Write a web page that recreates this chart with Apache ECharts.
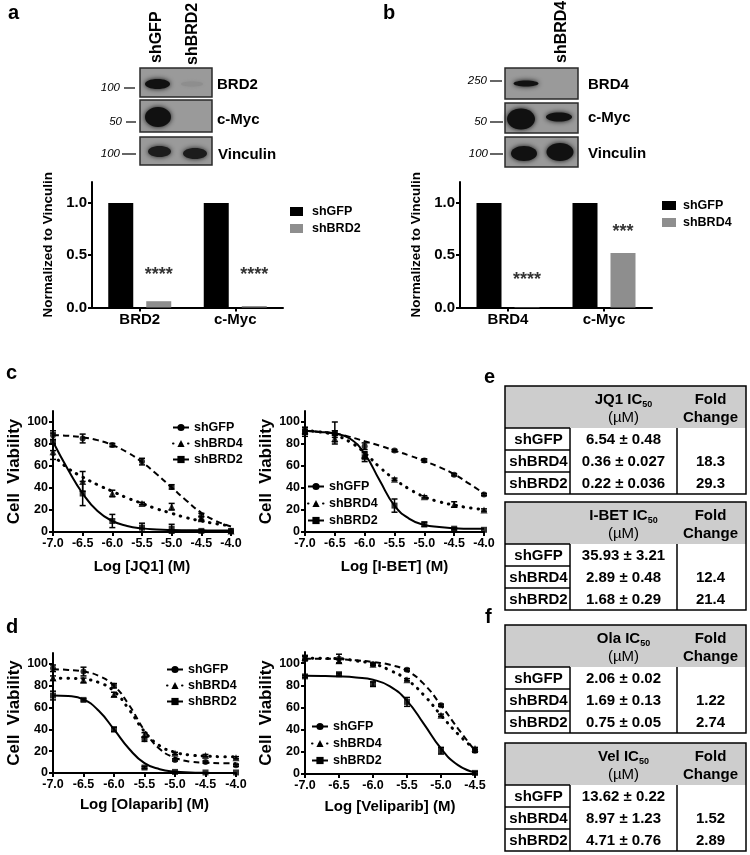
<!DOCTYPE html>
<html><head><meta charset="utf-8">
<script src="https://cdn.jsdelivr.net/npm/echarts@6/dist/echarts.min.js"></script>
<style>html,body{margin:0;padding:0;background:#fff}#c{width:750px;height:855px}</style>
</head><body><div id="c"></div>
<script>
const FONT = '"Liberation Sans", Arial, Helvetica, sans-serif';

// ---------- Panel a / b bar data ----------
const aCats = ['BRD2', 'c-Myc'];
const aGFP = [1, 1];
const aBRD2 = [0.06, 0.014];
const aStars = ['****', '****'];
const aStarY = [0.35, 0.35];

const bCats = ['BRD4', 'c-Myc'];
const bGFP = [1, 1];
const bBRD4 = [0.004, 0.52];
const bStars = ['****', '***'];
const bStarY = [0.30, 0.76];

// ---------- Dose-response data ----------
const doses = [-7.0, -6.5, -6.0, -5.5, -5.0, -4.5, -4.0];
const dosesVel = [-7.0, -6.5, -6.0, -5.5, -5.0, -4.5];
const fitX = [-7, -6.75, -6.5, -6.25, -6, -5.75, -5.5, -5.25, -5, -4.75, -4.5, -4.25, -4];
const fitXVel = [-7, -6.75, -6.5, -6.25, -6, -5.75, -5.5, -5.25, -5, -4.75, -4.5];

// JQ1
const jq1GFP = [88, 85, 79, 64, 41, 14, 1];
const jq1GFPErr = [4, 4, 1.5, 3, 2, 3, 0];
const jq1BRD4 = [73, 46, 35, 26, 23, 12, 1];
const jq1BRD4Err = [7, 9, 3, 1, 3, 2, 0];
const jq1BRD2 = [82, 35, 10, 4, 3, 1, 1];
const jq1BRD2Err = [8, 11, 6, 4, 4, 1, 0];
const jq1GFPFit = [88, 87.5, 86, 83.5, 79, 72.5, 63.5, 52.5, 40.5, 28.5, 17.5, 10, 5];
const jq1BRD4Fit = [70, 58, 50, 43, 37, 31, 26, 21, 17, 13, 10, 7.5, 5.5];
const jq1BRD2Fit = [82, 57, 35, 19, 10, 5.5, 3.3, 2.3, 1.8, 1.6, 1.5, 1.4, 1.4];

// I-BET
const ibetGFP = [92, 89, 78, 74, 65, 52, 34];
const ibetGFPErr = [3, 3, 3, 1, 1.5, 1, 1];
const ibetBRD4 = [92, 85, 70, 48, 32, 25, 20];
const ibetBRD4Err = [3, 3, 3, 1, 1, 2.5, 1];
const ibetBRD2 = [91, 90, 68, 24, 7, 3, 2];
const ibetBRD2Err = [4, 10, 4, 6, 2, 1, 0];
const ibetGFPFit = [92, 91, 89.5, 86.5, 82.5, 78.5, 74, 69.5, 64.5, 59, 52.5, 44, 35];
const ibetBRD4Fit = [92, 91, 88, 82, 72, 59, 48, 39, 32, 27.5, 24.5, 22, 20.5];
const ibetBRD2Fit = [92, 91, 89.5, 85, 71, 47, 24, 12, 6.5, 4.5, 3.5, 3, 3];

// Olaparib
const olaGFP = [96, 93, 80, 31, 12, 10, 7];
const olaGFPErr = [3, 4, 2, 2, 1, 1, 1];
const olaBRD4 = [87, 85, 72, 35, 18, 16, 14];
const olaBRD4Err = [2, 2, 2, 2, 1, 1, 1];
const olaBRD2 = [71, 67, 40, 5, 1, 0.5, 0.5];
const olaBRD2Err = [4, 1, 2, 1, 0, 0, 0];
const olaGFPFit = [95, 94.5, 93, 89, 80, 62, 39, 22, 14, 10.5, 9.5, 9, 9];
const olaBRD4Fit = [87, 86.8, 86, 83, 75, 58, 38, 25, 19, 16.5, 15.5, 15, 15];
const olaBRD2Fit = [71, 70.5, 67.5, 57, 40, 22, 9, 3.5, 1.3, 0.5, 0.2, 0, 0];

// Veliparib
const velGFP = [104, 104, 99, 94, 62, 21];
const velGFPErr = [2, 4, 1, 1, 1, 1.5];
const velBRD4 = [105, 102, 99, 85, 53, 23];
const velBRD4Err = [2, 2, 1, 1, 1, 1];
const velBRD2 = [88, 90, 81, 65, 21, 1];
const velBRD2Err = [1, 1, 2, 4, 3, 1];
const velGFPFit = [104, 104, 103.5, 102.5, 101, 98.5, 93, 81, 62, 41, 21];
const velBRD4Fit = [104.5, 104.3, 104, 102, 99.5, 93.5, 85, 71, 53, 36, 22];
const velBRD2Fit = [88.5, 88.4, 88, 87, 85, 79, 66, 45, 23, 8, 1.5];

// ---------- Tables ----------
const tableDrugs = ['JQ1', 'I-BET', 'Ola', 'Vel'];
const tableRows = ['shGFP', 'shBRD4', 'shBRD2'];
const tableIC50 = [
  ['6.54 ± 0.48', '0.36 ± 0.027', '0.22 ± 0.036'],
  ['35.93 ± 3.21', '2.89 ± 0.48', '1.68 ± 0.29'],
  ['2.06 ± 0.02', '1.69 ± 0.13', '0.75 ± 0.05'],
  ['13.62 ± 0.22', '8.97 ± 1.23', '4.71 ± 0.76']
];
const tableFold = [
  ['', '18.3', '29.3'],
  ['', '12.4', '21.4'],
  ['', '1.22', '2.74'],
  ['', '1.52', '2.89']
];

const chart = echarts.init(document.getElementById('c'), null, {renderer: 'canvas'});

const grids = [
  {left: 92, top: 182, width: 191, height: 125.5},
  {left: 460, top: 182, width: 192, height: 125.5},
  {left: 53, top: 411, width: 178, height: 121},
  {left: 305, top: 411, width: 179, height: 121},
  {left: 53, top: 653, width: 183, height: 120},
  {left: 305, top: 652, width: 170, height: 122}
];

const axLine = {show: true, lineStyle: {color: '#000', width: 2}};
const axTick = {show: true, inside: false, length: 4, lineStyle: {color: '#000', width: 2}};
const lblBase = {color: '#000', fontWeight: 'bold', fontFamily: FONT};

const xAxes = [];
const yAxes = [];
[aCats, bCats].forEach((cats, g) => {
  xAxes.push({gridIndex: g, type: 'category', data: cats, axisLine: axLine,
    axisTick: Object.assign({}, axTick, {alignWithLabel: true, length: 4}),
    axisLabel: Object.assign({}, lblBase, {fontSize: 15, margin: 5})});
  yAxes.push({gridIndex: g, type: 'value', min: 0, max: 1.2, splitLine: {show: false},
    axisLine: axLine, axisTick: Object.assign({}, axTick, {customValues: [0, 0.5, 1]}),
    axisLabel: Object.assign({}, lblBase, {fontSize: 15, margin: 5, customValues: [0, 0.5, 1], formatter: v => v.toFixed(1)}),
    name: 'Normalized to Vinculin', nameLocation: 'middle', nameGap: 37,
    nameTextStyle: Object.assign({}, lblBase, {fontSize: 13.5})});
});
const curveTitles = ['Log [JQ1] (M)', 'Log [I-BET] (M)', 'Log [Olaparib] (M)', 'Log [Veliparib] (M)'];
const curveMax = [-4, -4, -4, -4.5];
const xNameGap = [27, 27, 24.5, 25.5];
for (let k = 0; k < 4; k++) {
  const g = k + 2;
  xAxes.push({gridIndex: g, type: 'value', min: -7, max: curveMax[k], interval: 0.5,
    splitLine: {show: false}, axisLine: axLine, axisTick: axTick,
    axisLabel: Object.assign({}, lblBase, {fontSize: 12.5, margin: 5, formatter: v => v.toFixed(1)}),
    name: curveTitles[k], nameLocation: 'middle', nameGap: xNameGap[k],
    nameTextStyle: Object.assign({}, lblBase, {fontSize: 15})});
  yAxes.push({gridIndex: g, type: 'value', min: 0, max: 110, splitLine: {show: false},
    axisLine: axLine, axisTick: Object.assign({}, axTick, {customValues: [0, 20, 40, 60, 80, 100]}),
    axisLabel: Object.assign({}, lblBase, {fontSize: 12.5, margin: 5, customValues: [0, 20, 40, 60, 80, 100]}),
    name: 'Cell  Viability', nameLocation: 'middle', nameGap: 19,
    nameTextStyle: Object.assign({}, lblBase, {fontSize: 17})});
}

const series = [];
function addBars(g, key, cats, black, gray, grayName, stars, starY) {
  series.push({type: 'bar', name: key + ':shGFP', xAxisIndex: g, yAxisIndex: g, data: black,
    barWidth: 25, barGap: '52%', itemStyle: {color: '#000'}, silent: true});
  series.push({type: 'bar', name: key + ':' + grayName, xAxisIndex: g, yAxisIndex: g, data: gray,
    barWidth: 25, barGap: '52%', itemStyle: {color: '#8e8e8e'}, silent: true});
  series.push({type: 'scatter', name: key + ':stars', xAxisIndex: g, yAxisIndex: g,
    data: starY.map((y, i) => [i, y]), symbolSize: 1, itemStyle: {color: 'rgba(0,0,0,0)'}, silent: true,
    label: {show: true, position: 'inside', offset: [19, 4], formatter: p => stars[p.dataIndex],
      fontSize: 18, fontWeight: 'bold', color: '#000', fontFamily: FONT}});
}
addBars(0, 'a', aCats, aGFP, aBRD2, 'shBRD2', aStars, aStarY);
addBars(1, 'b', bCats, bGFP, bBRD4, 'shBRD4', bStars, bStarY);

function errRender(params, api) {
  const x = api.value(0), lo = api.value(1), hi = api.value(2);
  if (hi - lo <= 0) return null;
  const p1 = api.coord([x, hi]), p2 = api.coord([x, lo]);
  const w = 3;
  const style = {stroke: '#000', lineWidth: 1.5};
  return {type: 'group', children: [
    {type: 'line', shape: {x1: p1[0], y1: p1[1], x2: p2[0], y2: p2[1]}, style: style},
    {type: 'line', shape: {x1: p1[0] - w, y1: p1[1], x2: p1[0] + w, y2: p1[1]}, style: style},
    {type: 'line', shape: {x1: p2[0] - w, y1: p2[1], x2: p2[0] + w, y2: p2[1]}, style: style}
  ]};
}

const styles = {
  shGFP: {symbol: 'circle', size: 6, line: {type: [6, 4], width: 2}},
  shBRD4: {symbol: 'triangle', size: 7, line: {type: [0.5, 7], width: 3, cap: 'round'}},
  shBRD2: {symbol: 'rect', size: 6, line: {type: 'solid', width: 2}}
};

function addCurves(g, key, xs, fx, groups) {
  groups.forEach(([nm, pts, err, fit]) => {
    const st = styles[nm];
    series.push({type: 'line', name: key + ':' + nm, xAxisIndex: g, yAxisIndex: g,
      data: fx.map((x, i) => [x, fit[i]]), smooth: 0.5,
      showSymbol: false, symbol: st.symbol, symbolSize: st.size,
      lineStyle: Object.assign({color: '#000'}, st.line), itemStyle: {color: '#000'}, silent: true, z: 2});
  });
  groups.forEach(([nm, pts, err, fit]) => {
    const st = styles[nm];
    series.push({type: 'custom', name: key + ':' + nm + ' err', xAxisIndex: g, yAxisIndex: g,
      data: xs.map((x, i) => [x, pts[i] - err[i], pts[i] + err[i]]), encode: {x: 0, y: [1, 2]},
      renderItem: errRender, silent: true, z: 3, clip: false});
    series.push({type: 'scatter', name: key + ':' + nm + ' pts', xAxisIndex: g, yAxisIndex: g,
      data: xs.map((x, i) => [x, pts[i]]), symbol: st.symbol, symbolSize: st.size,
      itemStyle: {color: '#000'}, silent: true, z: 4});
  });
}
addCurves(2, 'c1', doses, fitX, [['shGFP', jq1GFP, jq1GFPErr, jq1GFPFit], ['shBRD4', jq1BRD4, jq1BRD4Err, jq1BRD4Fit], ['shBRD2', jq1BRD2, jq1BRD2Err, jq1BRD2Fit]]);
addCurves(3, 'c2', doses, fitX, [['shGFP', ibetGFP, ibetGFPErr, ibetGFPFit], ['shBRD4', ibetBRD4, ibetBRD4Err, ibetBRD4Fit], ['shBRD2', ibetBRD2, ibetBRD2Err, ibetBRD2Fit]]);
addCurves(4, 'd1', doses, fitX, [['shGFP', olaGFP, olaGFPErr, olaGFPFit], ['shBRD4', olaBRD4, olaBRD4Err, olaBRD4Fit], ['shBRD2', olaBRD2, olaBRD2Err, olaBRD2Fit]]);
addCurves(5, 'd2', dosesVel, fitXVel, [['shGFP', velGFP, velGFPErr, velGFPFit], ['shBRD4', velBRD4, velBRD4Err, velBRD4Fit], ['shBRD2', velBRD2, velBRD2Err, velBRD2Fit]]);

const legTxt = {color: '#000', fontWeight: 'bold', fontFamily: FONT};
const fmt = n => n.split(':')[1];
const legends = [
  {data: ['a:shGFP', 'a:shBRD2'], left: 290, top: 205, icon: 'rect', itemWidth: 13, itemHeight: 9, itemGap: 4,
   textStyle: Object.assign({fontSize: 12.5, padding: [0, 0, 0, 4]}, legTxt)},
  {data: ['b:shGFP', 'b:shBRD4'], left: 662, top: 199, icon: 'rect', itemWidth: 14, itemHeight: 9, itemGap: 4,
   textStyle: Object.assign({fontSize: 12.5, padding: [0, 0, 0, 2]}, legTxt)},
  {data: ['c1:shGFP', 'c1:shBRD4', 'c1:shBRD2'], left: 172, top: 421, itemWidth: 16, itemHeight: 9, itemGap: 3,
   textStyle: Object.assign({fontSize: 12.5}, legTxt)},
  {data: ['c2:shGFP', 'c2:shBRD4', 'c2:shBRD2'], left: 307, top: 480, itemWidth: 16, itemHeight: 9, itemGap: 4,
   textStyle: Object.assign({fontSize: 12.5}, legTxt)},
  {data: ['d1:shGFP', 'd1:shBRD4', 'd1:shBRD2'], left: 166, top: 663, itemWidth: 16, itemHeight: 9, itemGap: 3,
   textStyle: Object.assign({fontSize: 12.5}, legTxt)},
  {data: ['d2:shGFP', 'd2:shBRD4', 'd2:shBRD2'], left: 311, top: 720, itemWidth: 16, itemHeight: 9, itemGap: 4,
   textStyle: Object.assign({fontSize: 12.5}, legTxt)}
].map(l => Object.assign({orient: 'vertical', selectedMode: false, formatter: fmt, padding: 0}, l));

// ---------- graphic: panel labels, blots, tables ----------
const G = [];
function txt(x, y, s, o) {
  G.push({type: 'text', x: x, y: y, rotation: (o && o.rot) || 0, silent: true, style: Object.assign({
    text: s, fill: '#000', fontFamily: FONT, fontWeight: 'bold', fontSize: 15,
    align: 'left', verticalAlign: 'middle'}, o || {})});
}
[['a', 8, 13], ['b', 383, 13], ['c', 6, 373], ['d', 6, 627], ['e', 484, 377], ['f', 485, 617]]
  .forEach(([s, x, y]) => txt(x, y, s, {fontSize: 20}));

function box(x, y, w, h) {
  G.push({type: 'rect', silent: true, shape: {x: x, y: y, width: w, height: h},
    style: {fill: '#9a9a9a', stroke: '#2a2a2a', lineWidth: 1.5}});
}
function band(cx, cy, rx, ry, c, blur) {
  G.push({type: 'ellipse', silent: true, shape: {cx: cx, cy: cy, rx: rx, ry: ry},
    style: {fill: c || '#111', shadowBlur: blur || 5, shadowColor: c || '#111'}});
}
function marker(xr, y, s, dx1, dx2) {
  txt(xr, y, s, {fontWeight: 'normal', fontStyle: 'italic', fontSize: 11.5, align: 'right'});
  G.push({type: 'line', silent: true, shape: {x1: dx1, y1: y, x2: dx2, y2: y}, style: {stroke: '#000', lineWidth: 1.2}});
}
// Panel a blot
box(140, 68, 72, 29); box(140, 100, 72, 32); box(140, 137, 72, 28);
band(157.5, 84, 12.5, 5); band(192, 84, 11, 2.5, '#8e8e8e', 3);
band(158, 117, 13, 10);
band(159.5, 151.5, 11.5, 5.5, '#1c1c1c'); band(195, 153.5, 12, 5.5, '#1c1c1c');
marker(120, 88, '100', 124, 135); marker(122, 122, '50', 126, 136); marker(120, 154, '100', 122, 136);
txt(217, 85, 'BRD2', {fontSize: 15}); txt(217, 120, 'c-Myc', {fontSize: 15}); txt(218, 155, 'Vinculin', {fontSize: 15});
txt(157, 63, 'shGFP', {fontSize: 16, rot: Math.PI / 2});
txt(193, 65, 'shBRD2', {fontSize: 16, rot: Math.PI / 2});
// Panel b blot
box(505, 68, 73, 31); box(505, 103, 73, 30); box(505, 137, 73, 30);
band(526, 83.5, 12.5, 3);
band(521, 119, 14, 10.5); band(559, 117, 13, 4.5);
band(524, 153.5, 13, 7.5); band(560, 152, 13.5, 9);
marker(487, 81, '250', 490, 502); marker(487, 122, '50', 490, 503); marker(488, 154, '100', 490, 503);
txt(588, 85, 'BRD4', {fontSize: 15}); txt(588, 118, 'c-Myc', {fontSize: 15}); txt(588, 154, 'Vinculin', {fontSize: 15});
txt(562, 63, 'shBRD4', {fontSize: 16, rot: Math.PI / 2});

// Tables
const tTops = [386, 502, 625, 743];
const tX = [505, 570, 677, 746];
const hdrH = 42, rowH = 22;
tTops.forEach((top, t) => {
  const H = hdrH + rowH * 3;
  G.push({type: 'rect', silent: true, shape: {x: tX[0], y: top, width: tX[3] - tX[0], height: hdrH}, style: {fill: '#cdcdcd'}});
  G.push({type: 'rect', silent: true, shape: {x: tX[0], y: top, width: tX[3] - tX[0], height: H}, style: {fill: 'none', stroke: '#000', lineWidth: 1.5}});
  [tX[1], tX[2]].forEach(x => G.push({type: 'line', silent: true, shape: {x1: x, y1: top + hdrH, x2: x, y2: top + H}, style: {stroke: '#000', lineWidth: 1.5}}));
  for (let r = 0; r < 3; r++) {
    G.push({type: 'line', silent: true, shape: {x1: tX[0], y1: top + hdrH + r * rowH, x2: tX[1], y2: top + hdrH + r * rowH}, style: {stroke: '#000', lineWidth: 1.5}});
  }
  const c2 = (tX[1] + tX[2]) / 2, c3 = (tX[2] + tX[3]) / 2, c1 = (tX[0] + tX[1]) / 2;
  G.push({type: 'text', x: c2, y: top + 14, silent: true, style: {
    text: '{m|' + tableDrugs[t] + ' IC}{s|50}', align: 'center', verticalAlign: 'middle',
    rich: {m: {fontSize: 15, fontWeight: 'bold', fontFamily: FONT, fill: '#000', lineHeight: 18},
           s: {fontSize: 9, fontWeight: 'bold', fontFamily: FONT, fill: '#000', verticalAlign: 'bottom', lineHeight: 18, padding: [6, 0, 0, 0]}}}});
  txt(c2, top + 32, '(µM)', {fontWeight: 'normal', fontSize: 15, align: 'center'});
  txt(c3 - 1, top + 14, 'Fold', {fontSize: 15, align: 'center'});
  txt(c3 - 1, top + 32, 'Change', {fontSize: 15, align: 'center'});
  for (let r = 0; r < 3; r++) {
    const cy = top + hdrH + r * rowH + rowH / 2 + 0.5;
    txt(c1 + 1, cy, tableRows[r], {fontSize: 15, align: 'center'});
    txt(c2, cy, tableIC50[t][r], {fontSize: 15, align: 'center'});
    if (tableFold[t][r]) txt(c3 - 1, cy, tableFold[t][r], {fontSize: 15, align: 'center'});
  }
});

chart.setOption({
  animation: false,
  backgroundColor: '#fff',
  textStyle: {fontFamily: FONT},
  grid: grids,
  xAxis: xAxes,
  yAxis: yAxes,
  legend: legends,
  series: series,
  graphic: {elements: G}
});
</script>
</body></html>
